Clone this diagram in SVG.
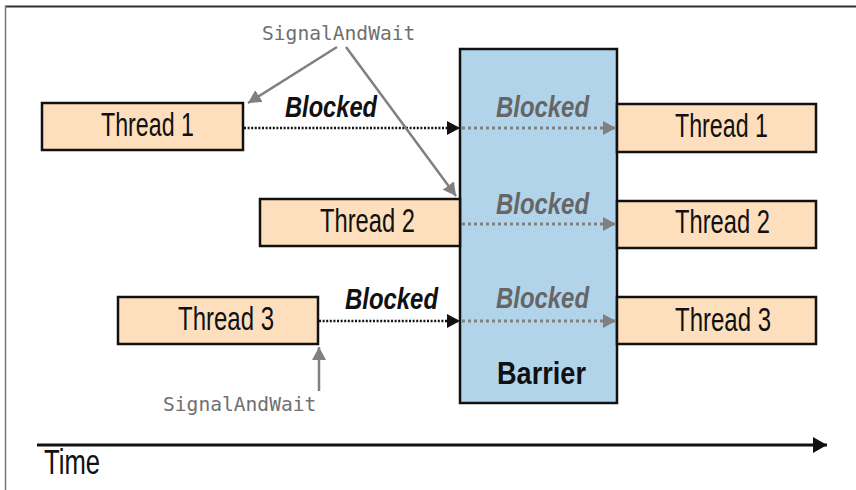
<svg xmlns="http://www.w3.org/2000/svg" width="856" height="490" viewBox="0 0 856 490">
<style>
.box{fill:#fddfbd;stroke:#111;stroke-width:2.5}
.bar{fill:#b2d4ea;stroke:#111;stroke-width:2.5}
.lbl{font-family:"Liberation Sans",Arial,sans-serif;font-size:33.5px;fill:#111}
.blk{font-family:"Liberation Sans",Arial,sans-serif;font-size:29px;font-weight:bold;font-style:italic}
.mono{font-family:"DejaVu Sans Mono","Liberation Mono",monospace;font-size:19.6px;fill:#707070}
.dk{stroke:#111;stroke-width:2.5;stroke-dasharray:2 1.6;fill:none}
.gr{stroke:#808080;stroke-width:3;stroke-dasharray:3 3;fill:none}
.gl{stroke:#808080;stroke-width:2.5;fill:none}
</style>
<defs>
<marker id="ak" markerWidth="13" markerHeight="14" refX="13" refY="7" orient="auto" markerUnits="userSpaceOnUse"><path d="M0,0 L13,7 L0,14 Z" fill="#111"/></marker>
<marker id="ag" markerWidth="13" markerHeight="14" refX="13" refY="7" orient="auto" markerUnits="userSpaceOnUse"><path d="M0,0 L13,7 L0,14 Z" fill="#808080"/></marker>
<marker id="at" markerWidth="14" markerHeight="16" refX="14" refY="8" orient="auto" markerUnits="userSpaceOnUse"><path d="M0,0 L14,8 L0,16 Z" fill="#111"/></marker>
</defs>
<rect width="856" height="490" fill="#fff"/>
<path d="M5,6.5 H856" stroke="#333" stroke-width="2"/>
<path d="M5.5,6 V490" stroke="#777" stroke-width="1.5"/>

<g id="barrier">
<rect class="bar" x="460" y="49" width="157" height="354"/>
<text x="497" y="384" font-family="Liberation Sans,Arial,sans-serif" font-size="30.5" font-weight="bold" fill="#111" textLength="89" lengthAdjust="spacingAndGlyphs">Barrier</text>
</g>

<g id="t1-left"><rect class="box" x="42" y="103" width="201" height="47"/><text class="lbl" x="101" y="136" textLength="93" lengthAdjust="spacingAndGlyphs">Thread 1</text></g>
<g id="t2-left"><rect class="box" x="260" y="199" width="200" height="47"/><text class="lbl" x="320" y="232" textLength="95" lengthAdjust="spacingAndGlyphs">Thread 2</text></g>
<g id="t3-left"><rect class="box" x="118" y="297" width="200" height="47"/><text class="lbl" x="178" y="330" textLength="96" lengthAdjust="spacingAndGlyphs">Thread 3</text></g>
<g id="t1-right"><rect class="box" x="617" y="104" width="199" height="48"/><text class="lbl" x="675" y="137" textLength="93" lengthAdjust="spacingAndGlyphs">Thread 1</text></g>
<g id="t2-right"><rect class="box" x="617" y="201" width="199" height="47"/><text class="lbl" x="675" y="233" textLength="95" lengthAdjust="spacingAndGlyphs">Thread 2</text></g>
<g id="t3-right"><rect class="box" x="617" y="297" width="199" height="47"/><text class="lbl" x="675" y="331" textLength="96" lengthAdjust="spacingAndGlyphs">Thread 3</text></g>

<g id="labels">
<text class="mono" x="262" y="40">SignalAndWait</text>
<text class="mono" x="163" y="411">SignalAndWait</text>
<text class="blk" x="285" y="117" fill="#111" textLength="92" lengthAdjust="spacingAndGlyphs">Blocked</text>
<text class="blk" x="345" y="309" fill="#111" textLength="93" lengthAdjust="spacingAndGlyphs">Blocked</text>
<text class="blk" x="496" y="117" fill="#666" textLength="93" lengthAdjust="spacingAndGlyphs">Blocked</text>
<text class="blk" x="496" y="214" fill="#666" textLength="93" lengthAdjust="spacingAndGlyphs">Blocked</text>
<text class="blk" x="496" y="308" fill="#666" textLength="93" lengthAdjust="spacingAndGlyphs">Blocked</text>
<text x="44" y="474" font-family="Liberation Sans,Arial,sans-serif" font-size="35" fill="#111" textLength="56" lengthAdjust="spacingAndGlyphs">Time</text>
</g>

<g id="connectors">
<path class="dk" d="M244,128 H460" marker-end="url(#ak)"/>
<path class="dk" d="M319,321 H460" marker-end="url(#ak)"/>
<path class="gr" d="M462,128 H616" marker-end="url(#ag)"/>
<path class="gr" d="M462,224 H616" marker-end="url(#ag)"/>
<path class="gr" d="M462,321 H616" marker-end="url(#ag)"/>
<path class="gl" d="M337,47 L248,103" marker-end="url(#ag)"/>
<path class="gl" d="M346,47 L456,196" marker-end="url(#ag)"/>
<path class="gl" d="M319,391 V347" marker-end="url(#ag)"/>
<path d="M37,445 H827" stroke="#111" stroke-width="3" fill="none" marker-end="url(#at)"/>
</g>
</svg>
